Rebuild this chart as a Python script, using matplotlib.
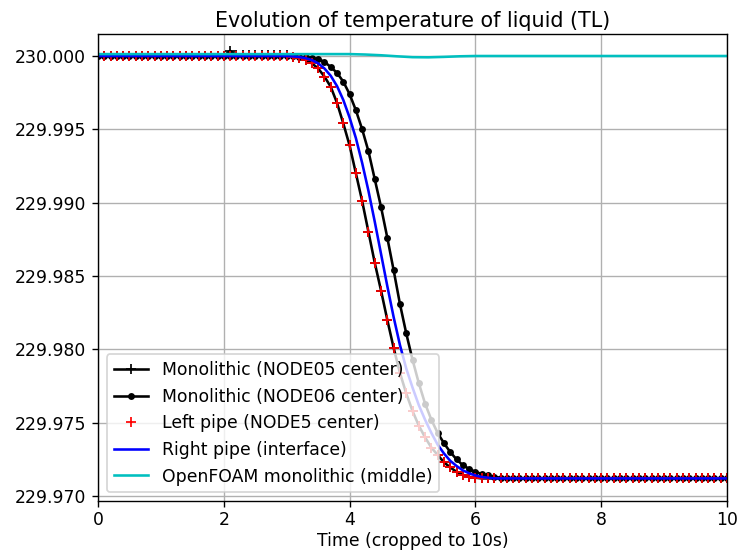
import numpy as np
import matplotlib
matplotlib.use("Agg")
import matplotlib.pyplot as plt

# time samples of the 1D runs (every 0.1 s up to 10 s)
t = np.round(np.arange(0, 101) * 0.1, 1)

# drop below 230 K, in mK
node05 = [0, 0, 0, 0, 0, 0, 0, 0, 0, 0,
          0, 0, 0, 0, 0, 0, 0, 0, 0, 0,
          0, -0.35, -0.07, -0.07, -0.07, -0.07, -0.07, -0.07, -0.07, -0.07,
          -0.05, 0.05, 0.12, 0.25, 0.5, 0.85, 1.4, 2.1, 3.2, 4.6,
          6.1, 8.0, 9.9, 12.0, 14.1, 16.0, 18.0, 19.9, 21.6, 23.0,
          24.2, 25.2, 26.0, 26.7, 27.2, 27.7, 28.05, 28.35, 28.55, 28.7,
          28.75, 28.8, 28.8, 28.8, 28.8, 28.8, 28.8, 28.8, 28.8, 28.8,
          28.8, 28.8, 28.8, 28.8, 28.8, 28.8, 28.8, 28.8, 28.8, 28.8,
          28.8, 28.8, 28.8, 28.8, 28.8, 28.8, 28.8, 28.8, 28.8, 28.8,
          28.8, 28.8, 28.8, 28.8, 28.8, 28.8, 28.8, 28.8, 28.8, 28.8,
          28.8]

node06 = [0, 0, 0, 0, 0, 0, 0, 0, 0, 0,
          0, 0, 0, 0, 0, 0, 0, 0, 0, 0,
          0, 0, 0, 0, 0, 0, 0, 0, 0, 0,
          0, 0.02, 0.05, 0.08, 0.13, 0.2, 0.4, 0.75, 1.15, 1.75,
          2.6, 3.7, 5.0, 6.5, 8.4, 10.3, 12.4, 14.6, 16.9, 18.9,
          20.7, 22.3, 23.7, 24.8, 25.7, 26.4, 27.0, 27.5, 27.9, 28.15,
          28.35, 28.5, 28.6, 28.7, 28.75, 28.8, 28.8, 28.8, 28.8, 28.8,
          28.8, 28.8, 28.8, 28.8, 28.8, 28.8, 28.8, 28.8, 28.8, 28.8,
          28.8, 28.8, 28.8, 28.8, 28.8, 28.8, 28.8, 28.8, 28.8, 28.8,
          28.8, 28.8, 28.8, 28.8, 28.8, 28.8, 28.8, 28.8, 28.8, 28.8,
          28.8]

left_pipe = [0, 0, 0, 0, 0, 0, 0, 0, 0, 0,
             0, 0, 0, 0, 0, 0, 0, 0, 0, 0,
             0, 0, 0, 0, 0, 0, 0, 0, 0, 0,
             0, 0.05, 0.12, 0.25, 0.5, 0.85, 1.4, 2.1, 3.2, 4.6,
             6.1, 8.0, 9.9, 12.0, 14.1, 16.0, 18.0, 19.9, 21.6, 23.0,
             24.2, 25.2, 26.0, 26.7, 27.2, 27.7, 28.05, 28.35, 28.55, 28.7,
             28.75, 28.8, 28.8, 28.8, 28.8, 28.8, 28.8, 28.8, 28.8, 28.8,
             28.8, 28.8, 28.8, 28.8, 28.8, 28.8, 28.8, 28.8, 28.8, 28.8,
             28.8, 28.8, 28.8, 28.8, 28.8, 28.8, 28.8, 28.8, 28.8, 28.8,
             28.8, 28.8, 28.8, 28.8, 28.8, 28.8, 28.8, 28.8, 28.8, 28.8,
             28.8]

right_pipe = [0, 0, 0, 0, 0, 0, 0, 0, 0, 0,
              0, 0, 0, 0, 0, 0, 0, 0, 0, 0,
              0, 0, 0, 0, 0, 0, 0, 0, 0, 0,
              0, 0.03, 0.07, 0.15, 0.28, 0.5, 0.85, 1.35, 2.05, 3.0,
              4.2, 5.6, 7.3, 9.2, 11.3, 13.5, 15.7, 17.8, 19.7, 21.3,
              22.6, 23.8, 24.8, 25.7, 26.5, 27.1, 27.6, 27.95, 28.25, 28.45,
              28.6, 28.7, 28.75, 28.8, 28.8, 28.8, 28.8, 28.8, 28.8, 28.8,
              28.8, 28.8, 28.8, 28.8, 28.8, 28.8, 28.8, 28.8, 28.8, 28.8,
              28.8, 28.8, 28.8, 28.8, 28.8, 28.8, 28.8, 28.8, 28.8, 28.8,
              28.8, 28.8, 28.8, 28.8, 28.8, 28.8, 28.8, 28.8, 28.8, 28.8,
              28.8]

# OpenFOAM probe, coarser
t_foam = [0, 1, 2, 3, 3.5, 4.0, 4.25, 4.5, 4.75, 5.0, 5.25, 5.5, 5.75, 6.0, 7, 8, 9, 10]
foam = [-0.13, -0.13, -0.13, -0.13, -0.13, -0.13, -0.1, -0.05, 0.02, 0.08,
        0.09, 0.06, 0.02, 0.0, 0.0, 0.0, 0.0, 0.0]

T0 = 230.0


def temp(d):
    return T0 - np.array(d) / 1000.0


dpi = 124
fig = plt.figure(figsize=(743 / dpi, 554 / dpi), dpi=dpi)
ax = fig.add_axes([98 / 743, 1 - 501 / 554, 629 / 743, 467 / 554])

ax.plot(t, temp(node05), 'k-+', label='Monolithic (NODE05 center)')
ax.plot(t, temp(node06), 'k.-', label='Monolithic (NODE06 center)')
ax.plot(t, temp(left_pipe), 'r+', label='Left pipe (NODE5 center)')
ax.plot(t, temp(right_pipe), 'b-', label='Right pipe (interface)')
ax.plot(t_foam, temp(foam), 'c-', label='OpenFOAM monolithic (middle)')

ax.set_xlim(0, 10)
ax.set_ylim(229.96966, 230.0015)
ax.ticklabel_format(axis='y', useOffset=False)
ax.tick_params(axis='x', pad=2.5)
ax.set_title('Evolution of temperature of liquid (TL)', pad=4)
ax.set_xlabel('Time (cropped to 10s)', labelpad=1.5)
ax.grid(True)
ax.legend(loc='lower left')

fig.savefig('out.png', dpi=dpi)
